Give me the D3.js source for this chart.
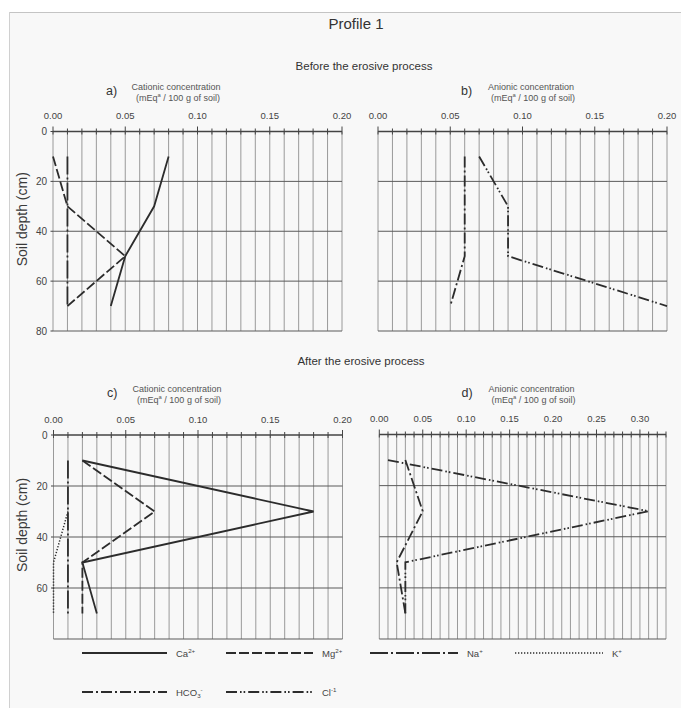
<!DOCTYPE html>
<html>
<head>
<meta charset="utf-8">
<script src="https://cdnjs.cloudflare.com/ajax/libs/d3/7.8.5/d3.min.js"></script>
<style>
body { margin: 0; background: #fff; }
svg text { font-family: "Liberation Sans", Arial, sans-serif; }
</style>
</head>
<body>
<div id="chart"></div>
<script>
var depths = [10, 30, 50, 70];
var depths_k = [30, 50, 70];

// a) cations, before erosion
var ca_before = [0.08, 0.07, 0.05, 0.04];
var mg_before = [0.00, 0.01, 0.05, 0.01];
var na_before = [0.01, 0.01, 0.01, 0.01];
// b) anions, before erosion
var hco3_before = [0.06, 0.06, 0.06, 0.05];
var cl_before = [0.07, 0.09, 0.09, 0.20];
// c) cations, after erosion
var ca_after = [0.02, 0.18, 0.02, 0.03];
var mg_after = [0.02, 0.07, 0.02, 0.02];
var na_after = [0.01, 0.01, 0.01, 0.01];
var k_after = [0.01, 0.00, 0.00];
// d) anions, after erosion
var hco3_after = [0.03, 0.05, 0.02, 0.03];
var cl_after = [0.01, 0.31, 0.03, 0.03];

var ticks_020 = ["0.00", "0.05", "0.10", "0.15", "0.20"];
var ticks_030 = ["0.00", "0.05", "0.10", "0.15", "0.20", "0.25", "0.30"];
var depth_ticks_a = [0, 20, 40, 60, 80];
var depth_ticks_c = [0, 20, 40, 60];

var dashes = {
	Ca: null,
	Mg: "10,3",
	Na: "18,3,2,3",
	K: "1.3,1.7",
	HCO3: "11,3,2,3",
	Cl: "11,3,1.6,2,1.6,3"
};
var LINE = "#2c2c2c";

var width = 681, height = 708;

var svg = d3.select("#chart").append("svg")
	.attr("width", width)
	.attr("height", height);

// scanned page background + faint border
svg.append("rect").attr("x", 9).attr("y", 12).attr("width", width - 9).attr("height", height - 12)
	.style("fill", "#f8f8f8");
svg.append("line").attr("x1", 9).attr("x2", width).attr("y1", 12.5).attr("y2", 12.5)
	.style("stroke", "#c4c4c4").style("stroke-width", 1.2);
svg.append("line").attr("x1", 9.5).attr("x2", 9.5).attr("y1", 12).attr("y2", height)
	.style("stroke", "#d0d0d0").style("stroke-width", 1);

// text with super/subscript pieces, parts = [[str, "n"|"sup"|"sub"], ...]
function richText(sel, parts, size) {
	var cur = 0;
	parts.forEach(function(p) {
		var target = p[1] == "sup" ? -size * 0.4 : (p[1] == "sub" ? size * 0.3 : 0);
		var t = sel.append("tspan").text(p[0]);
		if (target != cur) t.attr("dy", target - cur);
		if (p[1] != "n") t.style("font-size", (size * 0.65) + "px");
		cur = target;
	});
}

svg.append("text").attr("x", 356).attr("y", 29).attr("text-anchor", "middle")
	.style("font-size", "15px").style("fill", "#333").text("Profile 1");
svg.append("text").attr("x", 364).attr("y", 70).attr("text-anchor", "middle")
	.style("font-size", "11.5px").style("fill", "#333").text("Before the erosive process");
svg.append("text").attr("x", 361).attr("y", 365).attr("text-anchor", "middle")
	.style("font-size", "11.5px").style("fill", "#333").text("After the erosive process");

var panels = [
	{ id: "a", x0: 53, x1: 342, y0: 131.5, y1: 331, max: 0.20, ticks: ticks_020, depthTicks: depth_ticks_a,
	  title: "Cationic concentration", tx: 176, ty: 90,
	  series: [
		{ ion: "Ca", d: depths, v: ca_before },
		{ ion: "Mg", d: depths, v: mg_before },
		{ ion: "Na", d: depths, v: na_before }
	  ] },
	{ id: "b", x0: 378, x1: 667, y0: 131.5, y1: 331, max: 0.20, ticks: ticks_020, depthTicks: null,
	  title: "Anionic concentration", tx: 531, ty: 90,
	  series: [
		{ ion: "HCO3", d: depths, v: hco3_before },
		{ ion: "Cl", d: depths, v: cl_before }
	  ] },
	{ id: "c", x0: 53.5, x1: 342.5, y0: 435, y1: 639, max: 0.20, ticks: ticks_020, depthTicks: depth_ticks_c,
	  title: "Cationic concentration", tx: 177, ty: 391.5,
	  series: [
		{ ion: "Ca", d: depths, v: ca_after },
		{ ion: "Mg", d: depths, v: mg_after },
		{ ion: "Na", d: depths, v: na_after },
		{ ion: "K", d: depths_k, v: k_after }
	  ] },
	{ id: "d", x0: 379.3, x1: 666, y0: 434.5, y1: 639, max: 0.33, ticks: ticks_030, depthTicks: null,
	  title: "Anionic concentration", tx: 531.5, ty: 391.5,
	  series: [
		{ ion: "HCO3", d: depths, v: hco3_after },
		{ ion: "Cl", d: depths, v: cl_after }
	  ] }
];

panels.forEach(drawPanel);

function drawPanel(p) {
	var g = svg.append("g").attr("class", "panel-" + p.id);
	var x = d3.scaleLinear().domain([0, p.max]).range([p.x0, p.x1]);
	var y = d3.scaleLinear().domain([0, 80]).range([p.y0, p.y1]);
	var minor = d3.range(0, Math.round(p.max * 100) + 1).map(function(i) { return i / 100; });

	// vertical grid every 0.01
	g.selectAll("line.vgrid").data(minor).enter().append("line")
		.attr("class", "vgrid")
		.attr("x1", function(d) { return x(d); }).attr("x2", function(d) { return x(d); })
		.attr("y1", y(0)).attr("y2", y(80))
		.style("stroke", "#8e8e8e").style("stroke-width", 0.9);

	// horizontal lines at 20,40,60,80
	g.selectAll("line.hgrid").data([20, 40, 60, 80]).enter().append("line")
		.attr("class", "hgrid")
		.attr("x1", x(0)).attr("x2", x(p.max))
		.attr("y1", function(d) { return y(d); }).attr("y2", function(d) { return y(d); })
		.style("stroke", "#5a5a5a").style("stroke-width", 1);

	// top axis
	g.append("line").attr("x1", x(0)).attr("x2", x(p.max)).attr("y1", y(0)).attr("y2", y(0))
		.style("stroke", "#444").style("stroke-width", 1.3);
	g.selectAll("line.tick").data(minor).enter().append("line")
		.attr("class", "tick")
		.attr("x1", function(d) { return x(d); }).attr("x2", function(d) { return x(d); })
		.attr("y1", function(d, i) { return y(0) - (i % 5 == 0 ? 5 : 3); }).attr("y2", y(0) + 3)
		.style("stroke", "#444").style("stroke-width", 1);

	g.selectAll("text.xlab").data(p.ticks).enter().append("text")
		.attr("class", "xlab")
		.attr("x", function(d) { return x(+d); })
		.attr("y", p.y0 - 12.5)
		.attr("text-anchor", "middle")
		.style("font-size", "9.5px").style("fill", "#444")
		.text(function(d) { return d; });

	if (p.depthTicks) {
		g.selectAll("text.ylab").data(p.depthTicks).enter().append("text")
			.attr("class", "ylab")
			.attr("x", p.x0 - 6)
			.attr("y", function(d) { return y(d) + 3.5; })
			.attr("text-anchor", "end")
			.style("font-size", "10px").style("fill", "#444")
			.text(function(d) { return d; });
		g.selectAll("line.ytick").data(p.depthTicks).enter().append("line")
			.attr("x1", p.x0 - 2.5).attr("x2", p.x0)
			.attr("y1", function(d) { return y(d); }).attr("y2", function(d) { return y(d); })
			.style("stroke", "#444");
		g.append("text")
			.attr("transform", "translate(27," + ((p.y0 + p.y1) / 2 - 12) + ") rotate(-90)")
			.attr("text-anchor", "middle")
			.style("font-size", "14px").style("fill", "#3a3a3a")
			.text("Soil depth (cm)");
	}

	// panel headings
	g.append("text").attr("x", p.tx - 70).attr("y", p.ty + 5)
		.style("font-size", "12.5px").style("fill", "#333").text(p.id + ")");
	g.append("text").attr("x", p.tx).attr("y", p.ty).attr("text-anchor", "middle")
		.style("font-size", "9px").style("fill", "#555").text(p.title);
	var unit = g.append("text").attr("x", p.tx + 2).attr("y", p.ty + 11).attr("text-anchor", "middle")
		.style("font-size", "9px").style("fill", "#555");
	richText(unit, [["(mEq", "n"], ["a", "sup"], [" / 100 g of soil)", "n"]], 9);

	var line = d3.line()
		.x(function(d) { return x(d[1]); })
		.y(function(d) { return y(d[0]); });

	g.selectAll("path.ion").data(p.series).enter().append("path")
		.attr("class", "ion")
		.attr("d", function(s) { return line(d3.zip(s.d, s.v)); })
		.style("fill", "none")
		.style("stroke", LINE)
		.style("stroke-width", function(s) { return s.ion == "K" ? 1.5 : 1.8; })
		.style("stroke-dasharray", function(s) { return dashes[s.ion]; });
}

// legend
var legend_items = [
	{ ion: "Ca", label: [["Ca", "n"], ["2+", "sup"]], row: 0, x1: 82, x2: 167 },
	{ ion: "Mg", label: [["Mg", "n"], ["2+", "sup"]], row: 0, x1: 226, x2: 313 },
	{ ion: "Na", label: [["Na", "n"], ["+", "sup"]], row: 0, x1: 370, x2: 458 },
	{ ion: "K", label: [["K", "n"], ["+", "sup"]], row: 0, x1: 515, x2: 603 },
	{ ion: "HCO3", label: [["HCO", "n"], ["3", "sub"], ["-", "sup"]], row: 1, x1: 82, x2: 167 },
	{ ion: "Cl", label: [["Cl", "n"], ["-1", "sup"]], row: 1, x1: 226, x2: 313 }
];
var legend_rows = [653, 692];

legend_items.forEach(function(it) {
	var ly = legend_rows[it.row];
	svg.append("line").attr("x1", it.x1).attr("x2", it.x2).attr("y1", ly).attr("y2", ly)
		.style("stroke", LINE)
		.style("stroke-width", it.ion == "K" ? 1.5 : 1.8)
		.style("stroke-dasharray", dashes[it.ion]);
	var t = svg.append("text").attr("x", it.x2 + 9).attr("y", ly + 3.5)
		.style("font-size", "9.5px").style("fill", "#444");
	richText(t, it.label, 9.5);
});
</script>
</body>
</html>
